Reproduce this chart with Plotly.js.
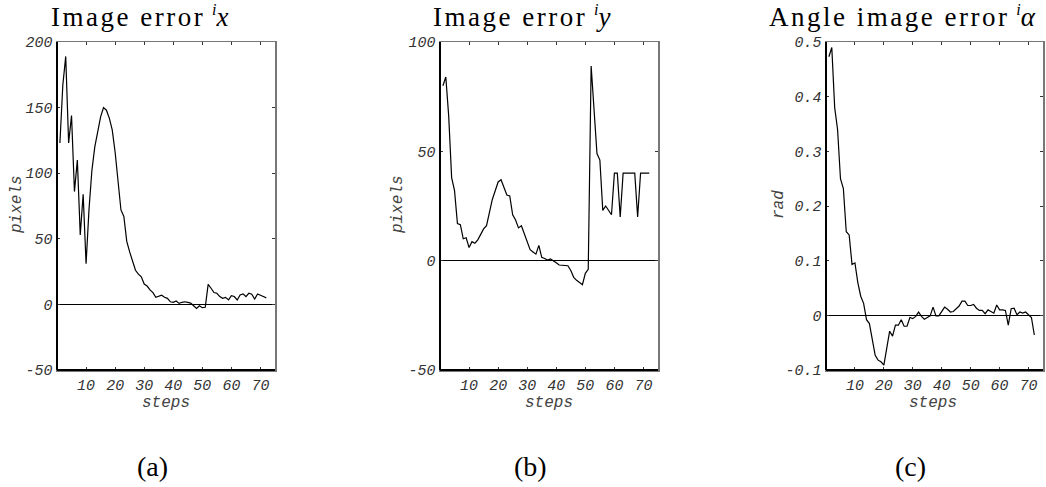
<!DOCTYPE html>
<html>
<head>
<meta charset="utf-8">
<script src="https://cdn.plot.ly/plotly-3.0.1.min.js"></script>
<style>html,body{margin:0;padding:0;background:#fff;} #chart{width:1046px;height:487px;}</style>
</head>
<body>
<div id="chart"></div>
<script>
// ---- data ----
const steps = [1,2,3,4,5,6,7,8,9,10,11,12,13,14,15,16,17,18,19,20,21,22,23,24,25,26,27,28,29,30,31,32,33,34,35,36,37,38,39,40,41,42,43,44,45,46,47,48,49,50,51,52,53,54,55,56,57,58,59,60,61,62,63,64,65,66,67,68,69,70,71,72];

const errX = [123,167,189,123,144,86,110,53,84,31,72,102,120,131,143,150,148,142,133,116,96,72,67,48,40,32,26,23,21,15.5,14,11,9,5.4,6.4,7,5.4,4.6,2,1.6,2.6,0.8,1.6,2,1.6,1,-1,-3,-1,-2.5,-2.2,15.3,12.3,9,8.5,6,4.6,5.4,3.4,6.7,6,3.4,7.2,8,6,8.5,7.7,4.1,8,6.7,6,5];

const errY = [80,84,66,38,32,17,16.5,10,10.5,6,8.7,8,9.5,12,14.5,16,22,28,32,36,37,33,30,29.6,21,18.6,15,16,12,8,5,4,3,7,1.5,1,0.3,0.8,0,-1,-2,-2,-2.2,-2.3,-4.5,-7.6,-9,-10,-11,-5.8,-4,89,67,49,46,23,25,23,21,40,40,20,40,40,40,40,40,20,40,40,40,40];

const errA = [0.473,0.49,0.38,0.34,0.25,0.232,0.153,0.147,0.093,0.096,0.06,0.035,0.022,-0.008,-0.015,-0.042,-0.073,-0.082,-0.085,-0.091,-0.063,-0.029,-0.038,-0.018,-0.018,-0.008,-0.02,-0.02,-0.004,-0.006,-0.002,0.006,-0.002,-0.007,-0.004,-0.001,0.015,-0.001,-0.001,0.007,0.015,0.011,0.006,0.007,0.013,0.017,0.026,0.026,0.018,0.018,0.02,0.013,0.009,0.009,0.003,0.01,0.007,0.004,0.019,0.01,0.01,0.009,-0.018,0.012,0.013,0.001,0.006,0.004,0.006,0,-0.004,-0.036];

const xTickVals = [10,20,30,40,50,60,70];
const xTickText = ["10","20","30","40","50","60","70"];
const yTickValsA = [-50,0,50,100,150,200];
const yTickTextA = ["-50","0","50","100","150","200"];
const yTickValsB = [-50,0,50,100];
const yTickTextB = ["-50","0","50","100"];
const yTickValsC = [-0.1,0,0.1,0.2,0.3,0.4,0.5];
const yTickTextC = ["-0.1","0","0.1","0.2","0.3","0.4","0.5"];

const titleWords = ['Image error', 'Image error', 'Angle image error'];
const titleSymbols = ['x', 'y', 'α'];
const yLabels = ['pixels','pixels','rad'];
const xLabel = 'steps';
const panelLabels = ['(a)','(b)','(c)'];

// ---- layout helpers ----
const W = 1046, H = 487;
const px = v => v / W;
const py = v => 1 - v / H;
const monoFont = {family: 'Liberation Mono, Courier New, monospace', size: 15, color: '#333', style: 'italic'};
const labelFont = {family: 'Liberation Mono, Courier New, monospace', size: 16, color: '#444', style: 'italic'};
const plotTop = 42, plotBot = 370;
const panels = [
  {l: 57, r: 275, ylab: 17, titleX: 139, labX: 152, sx: 166},
  {l: 440, r: 658, ylab: 398, titleX: 521, labX: 530, sx: 549},
  {l: 826, r: 1043, ylab: 779, titleX: 902, labX: 910, sx: 933}
];

function xaxisDef(i) {
  const p = panels[i];
  return {
    domain: [px(p.l), px(p.r)], range: [0, 75], anchor: i === 0 ? 'y' : 'y' + (i + 1),
    tickmode: 'array', tickvals: xTickVals, ticktext: xTickText,
    ticks: 'inside', ticklen: 3, tickwidth: 1, tickcolor: '#333',
    showline: true, linecolor: '#777', linewidth: 1.5, mirror: 'ticks',
    showgrid: false, zeroline: false, tickfont: monoFont, fixedrange: true
  };
}
function yaxisDef(i, range, vals, text) {
  return {
    domain: [py(plotBot), py(plotTop)], range: range, anchor: i === 0 ? 'x' : 'x' + (i + 1),
    tickmode: 'array', tickvals: vals, ticktext: text,
    ticks: 'inside', ticklen: 3, tickwidth: 1, tickcolor: '#333',
    showline: true, linecolor: '#777', linewidth: 1.5, mirror: 'ticks',
    showgrid: false, zeroline: true, zerolinecolor: '#000', zerolinewidth: 1,
    tickfont: monoFont, fixedrange: true
  };
}

const lineStyle = {color: '#000', width: 1.2};
const traces = [
  {x: steps, y: errX, type: 'scatter', mode: 'lines', line: lineStyle, xaxis: 'x', yaxis: 'y', hoverinfo: 'skip'},
  {x: steps, y: errY, type: 'scatter', mode: 'lines', line: lineStyle, xaxis: 'x2', yaxis: 'y2', hoverinfo: 'skip'},
  {x: steps, y: errA, type: 'scatter', mode: 'lines', line: lineStyle, xaxis: 'x3', yaxis: 'y3', hoverinfo: 'skip'}
];

const annotations = [];
const shapes = [];
panels.forEach((p, i) => {
  const t = '<span style="letter-spacing:2.5px;color:#000">' + titleWords[i] + '</span> ' +
            '<sup><span style="font-size:16px;color:#000"><i>i</i></span></sup><i>' + titleSymbols[i] + '</i>';
  annotations.push({text: t, xref: 'paper', yref: 'paper', x: px(p.titleX), y: py(16), xanchor: 'center', yanchor: 'middle', showarrow: false,
    font: {family: 'Liberation Serif, Times New Roman, serif', size: 27, color: '#000'}});
  annotations.push({text: yLabels[i], xref: 'paper', yref: 'paper', x: px(p.ylab), y: py(205), xanchor: 'center', yanchor: 'middle', textangle: -90, showarrow: false,
    font: labelFont});
  annotations.push({text: xLabel, xref: 'paper', yref: 'paper', x: px(p.sx), y: py(403), xanchor: 'center', yanchor: 'middle', showarrow: false,
    font: labelFont});
  annotations.push({text: panelLabels[i], xref: 'paper', yref: 'paper', x: px(p.labX), y: py(466), xanchor: 'center', yanchor: 'middle', showarrow: false,
    font: {family: 'Liberation Serif, Times New Roman, serif', size: 28, color: '#000'}});
  // black left and bottom frame lines
  shapes.push({type: 'line', xref: 'paper', yref: 'paper', x0: px(p.l), x1: px(p.l), y0: py(plotBot), y1: py(plotTop), line: {color: '#000', width: 2}});
  shapes.push({type: 'line', xref: 'paper', yref: 'paper', x0: px(p.l), x1: px(p.r), y0: py(plotBot), y1: py(plotBot), line: {color: '#000', width: 2}});
});

const layout = {
  width: W, height: H, autosize: false,
  margin: {l: 0, r: 0, t: 0, b: 0, pad: 0},
  paper_bgcolor: '#fff', plot_bgcolor: '#fff',
  showlegend: false,
  xaxis: xaxisDef(0), xaxis2: xaxisDef(1), xaxis3: xaxisDef(2),
  yaxis: yaxisDef(0, [-50, 200], yTickValsA, yTickTextA),
  yaxis2: yaxisDef(1, [-50, 100], yTickValsB, yTickTextB),
  yaxis3: yaxisDef(2, [-0.1, 0.5], yTickValsC, yTickTextC),
  annotations: annotations,
  shapes: shapes
};

Plotly.newPlot('chart', traces, layout, {displayModeBar: false, staticPlot: true});
</script>
</body>
</html>
